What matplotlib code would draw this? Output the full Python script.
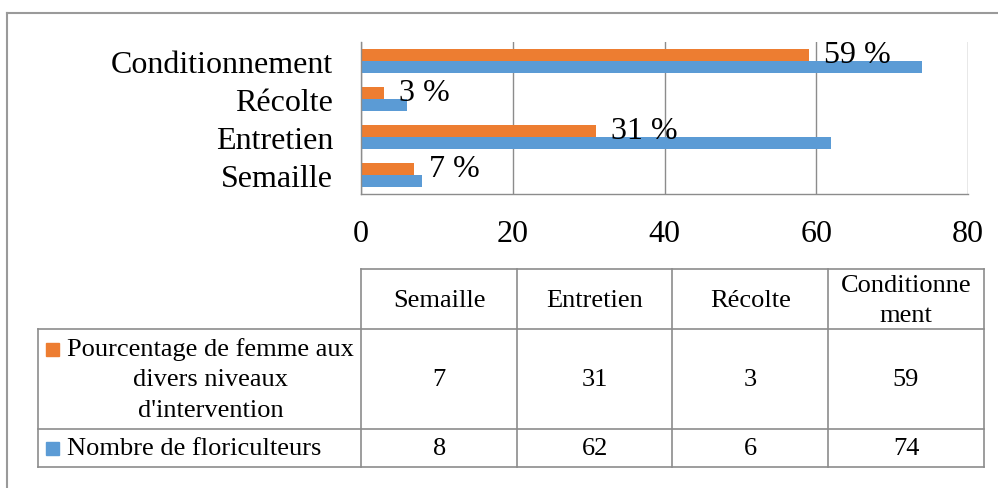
import numpy as np
import matplotlib
matplotlib.use("Agg")
import matplotlib.pyplot as plt
from matplotlib.lines import Line2D
from matplotlib.patches import Rectangle

categories = ["Semaille", "Entretien", "Récolte", "Conditionnement"]
pct_femmes = [7, 31, 3, 59]
nb_floriculteurs = [8, 62, 6, 74]
series_names = ["Pourcentage de femme aux\ndivers niveaux\nd'intervention",
                "Nombre de floriculteurs"]
header_labels = ["Semaille", "Entretien", "Récolte", "Conditionne\nment"]
x_ticks = [0, 20, 40, 60, 80]

orange = "#ED7D31"
blue = "#5B9BD5"
gray = "#8C8C8C"

plt.rcParams["font.family"] = ["Liberation Serif", "DejaVu Serif"]

W, H = 998, 489
fig = plt.figure(figsize=(W / 100, H / 100), dpi=100)

# bar chart area (pixel box 361..968 x 43..195)
ax = fig.add_axes([361 / W, 1 - 195 / H, 607 / W, 152 / H])
y = np.arange(len(categories))
bh = 0.32
ax.barh(y + bh / 2, pct_femmes, height=bh, color=orange)
ax.barh(y - bh / 2, nb_floriculteurs, height=bh, color=blue)
for yi, v in zip(y, pct_femmes):
    ax.annotate(f"{v} %", (v, yi + bh / 2), xytext=(11, 0), textcoords="offset points",
                va="center", ha="left", fontsize=23)

ax.set_xlim(0, 80)
ax.set_ylim(-0.5, 3.5)
ax.set_xticks(x_ticks)
ax.set_yticks(y)
ax.set_yticklabels(categories)
ax.tick_params(axis="x", length=0, pad=18, labelsize=23)
ax.tick_params(axis="y", length=0, pad=20, labelsize=23)
ax.grid(axis="x", color=gray, linewidth=1)
ax.set_axisbelow(True)
for s in ["top", "right"]:
    ax.spines[s].set_visible(False)
for s in ["left", "bottom"]:
    ax.spines[s].set_color(gray)
    ax.spines[s].set_linewidth(1)

# overlay in pixel coordinates for data table and frame
ov = fig.add_axes([0, 0, 1, 1])
ov.set_xlim(0, W)
ov.set_ylim(H, 0)
ov.axis("off")
ov.patch.set_alpha(0)


def line(x0, y0, x1, y1, c=gray, lw=1.2):
    ov.add_line(Line2D([x0, x1], [y0, y1], color=c, linewidth=lw))


# outer frame
line(7, H, 7, 14, c="#9A9A9A", lw=1.5)
line(7, 14, W, 14, c="#9A9A9A", lw=1.5)

cols = [361.5, 517, 672.5, 828, 984]
rows = [270, 330, 430, 468]
left = 38

line(cols[0], rows[0], cols[-1], rows[0])
for r in rows[1:]:
    line(left, r, cols[-1], r)
for c in cols:
    line(c, rows[0], c, rows[-1])
line(left, rows[1], left, rows[-1])

fs = 19
ls = 1.5
lh = 30
for i, lab in enumerate(header_labels):
    cx = (cols[i] + cols[i + 1]) / 2
    ov.text(cx, (rows[0] + rows[1]) / 2 + 1, lab, ha="center", va="center",
            fontsize=fs, linespacing=ls)

table_rows = [pct_femmes, nb_floriculteurs]
colors = [orange, blue]
for r, (vals, name, col) in enumerate(zip(table_rows, series_names, colors)):
    cy = (rows[r + 1] + rows[r + 2]) / 2
    ov.text(67, cy, name, ha="left", va="center", fontsize=fs,
            multialignment="center", linespacing=ls)
    first_y = cy - lh * name.count("\n") / 2
    ov.add_patch(Rectangle((46, first_y - 6), 13, 13, color=col))
    for i, v in enumerate(vals):
        cx = (cols[i] + cols[i + 1]) / 2
        ov.text(cx, cy, str(v), ha="center", va="center", fontsize=fs)

fig.savefig("out.png", dpi=100)
